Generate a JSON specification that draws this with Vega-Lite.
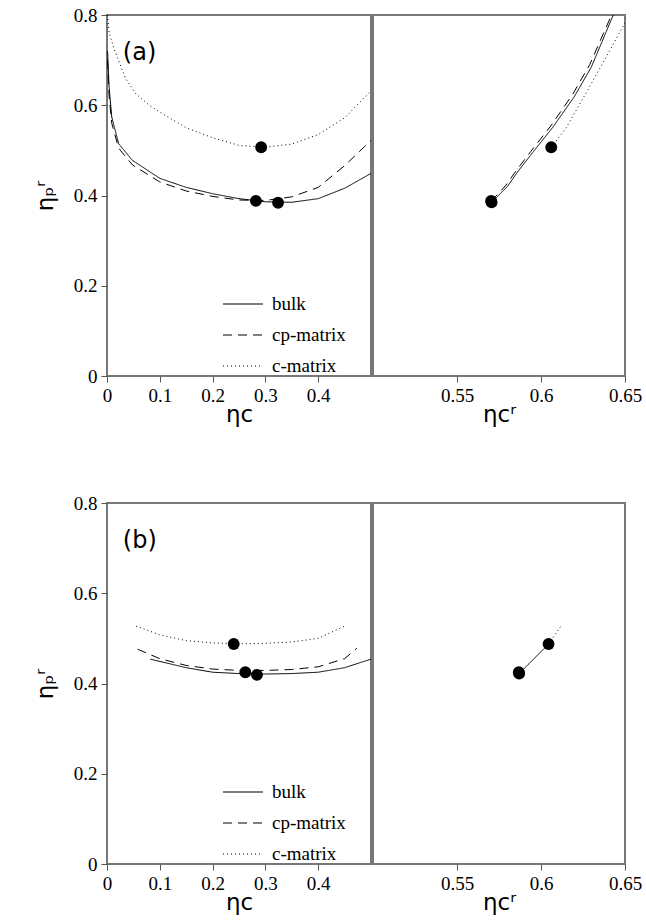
{
  "$schema": "https://vega.github.io/schema/vega-lite/v6.json",
  "background": "white",
  "padding": {"left": 33, "top": 5, "right": 0, "bottom": 0},
  "config": {
    "view": {"stroke": "#777777", "strokeWidth": 2},
    "font": "Times New Roman",
    "axis": {"labelFont": "Times New Roman", "labelFontSize": 19, "labelColor": "black", "titleFont": "DejaVu Sans", "titleFontSize": 23, "titleFontWeight": "normal", "titleColor": "black", "grid": false, "domain": false, "tickColor": "#555", "tickSize": 6, "labelPadding": 4},
    "axisX": {"titlePadding": -2},
    "axisY": {"titlePadding": 16},
    "legend": {"labelFont": "Times New Roman", "labelFontSize": 19, "labelColor": "black", "symbolType": "stroke", "symbolSize": 1600, "symbolStrokeColor": "black", "symbolStrokeWidth": 1.2, "rowPadding": -15, "labelOffset": 8},
    "concat": {"spacing": 0}
  },
  "resolve": {"scale": {"strokeDash": "independent"}, "legend": {"strokeDash": "independent"}},
  "datasets": {
    "curves": [
      {"p": "a", "side": "L", "series": "bulk", "x": 0.001, "y": 0.72},
      {"p": "a", "side": "L", "series": "bulk", "x": 0.004, "y": 0.64},
      {"p": "a", "side": "L", "series": "bulk", "x": 0.009, "y": 0.574},
      {"p": "a", "side": "L", "series": "bulk", "x": 0.022, "y": 0.515},
      {"p": "a", "side": "L", "series": "bulk", "x": 0.048, "y": 0.478},
      {"p": "a", "side": "L", "series": "bulk", "x": 0.1, "y": 0.438},
      {"p": "a", "side": "L", "series": "bulk", "x": 0.15, "y": 0.418},
      {"p": "a", "side": "L", "series": "bulk", "x": 0.2, "y": 0.404},
      {"p": "a", "side": "L", "series": "bulk", "x": 0.25, "y": 0.393},
      {"p": "a", "side": "L", "series": "bulk", "x": 0.3, "y": 0.386},
      {"p": "a", "side": "L", "series": "bulk", "x": 0.35, "y": 0.385},
      {"p": "a", "side": "L", "series": "bulk", "x": 0.4, "y": 0.393},
      {"p": "a", "side": "L", "series": "bulk", "x": 0.45, "y": 0.416},
      {"p": "a", "side": "L", "series": "bulk", "x": 0.5, "y": 0.449},
      {"p": "a", "side": "L", "series": "cp-matrix", "x": 0.001, "y": 0.7},
      {"p": "a", "side": "L", "series": "cp-matrix", "x": 0.004, "y": 0.62},
      {"p": "a", "side": "L", "series": "cp-matrix", "x": 0.009, "y": 0.56},
      {"p": "a", "side": "L", "series": "cp-matrix", "x": 0.022, "y": 0.505},
      {"p": "a", "side": "L", "series": "cp-matrix", "x": 0.048, "y": 0.468},
      {"p": "a", "side": "L", "series": "cp-matrix", "x": 0.1, "y": 0.43},
      {"p": "a", "side": "L", "series": "cp-matrix", "x": 0.15, "y": 0.41},
      {"p": "a", "side": "L", "series": "cp-matrix", "x": 0.2, "y": 0.398},
      {"p": "a", "side": "L", "series": "cp-matrix", "x": 0.25, "y": 0.39},
      {"p": "a", "side": "L", "series": "cp-matrix", "x": 0.3, "y": 0.389},
      {"p": "a", "side": "L", "series": "cp-matrix", "x": 0.35, "y": 0.397},
      {"p": "a", "side": "L", "series": "cp-matrix", "x": 0.4, "y": 0.418},
      {"p": "a", "side": "L", "series": "cp-matrix", "x": 0.45, "y": 0.466},
      {"p": "a", "side": "L", "series": "cp-matrix", "x": 0.5, "y": 0.522},
      {"p": "a", "side": "L", "series": "c-matrix", "x": 0.001, "y": 0.8},
      {"p": "a", "side": "L", "series": "c-matrix", "x": 0.004, "y": 0.76},
      {"p": "a", "side": "L", "series": "c-matrix", "x": 0.015, "y": 0.72},
      {"p": "a", "side": "L", "series": "c-matrix", "x": 0.035, "y": 0.66},
      {"p": "a", "side": "L", "series": "c-matrix", "x": 0.055, "y": 0.625},
      {"p": "a", "side": "L", "series": "c-matrix", "x": 0.082, "y": 0.598},
      {"p": "a", "side": "L", "series": "c-matrix", "x": 0.1, "y": 0.585},
      {"p": "a", "side": "L", "series": "c-matrix", "x": 0.15, "y": 0.55},
      {"p": "a", "side": "L", "series": "c-matrix", "x": 0.2, "y": 0.528},
      {"p": "a", "side": "L", "series": "c-matrix", "x": 0.25, "y": 0.511},
      {"p": "a", "side": "L", "series": "c-matrix", "x": 0.3, "y": 0.507},
      {"p": "a", "side": "L", "series": "c-matrix", "x": 0.35, "y": 0.514},
      {"p": "a", "side": "L", "series": "c-matrix", "x": 0.4, "y": 0.535},
      {"p": "a", "side": "L", "series": "c-matrix", "x": 0.45, "y": 0.572},
      {"p": "a", "side": "L", "series": "c-matrix", "x": 0.5, "y": 0.632},
      {"p": "a", "side": "R", "series": "bulk", "x": 0.5706, "y": 0.385},
      {"p": "a", "side": "R", "series": "bulk", "x": 0.58, "y": 0.42},
      {"p": "a", "side": "R", "series": "bulk", "x": 0.586, "y": 0.452},
      {"p": "a", "side": "R", "series": "bulk", "x": 0.595, "y": 0.495},
      {"p": "a", "side": "R", "series": "bulk", "x": 0.607, "y": 0.551},
      {"p": "a", "side": "R", "series": "bulk", "x": 0.62, "y": 0.62},
      {"p": "a", "side": "R", "series": "bulk", "x": 0.63, "y": 0.685},
      {"p": "a", "side": "R", "series": "bulk", "x": 0.643, "y": 0.8},
      {"p": "a", "side": "R", "series": "cp-matrix", "x": 0.5703, "y": 0.387},
      {"p": "a", "side": "R", "series": "cp-matrix", "x": 0.579, "y": 0.422},
      {"p": "a", "side": "R", "series": "cp-matrix", "x": 0.585, "y": 0.454},
      {"p": "a", "side": "R", "series": "cp-matrix", "x": 0.594, "y": 0.498},
      {"p": "a", "side": "R", "series": "cp-matrix", "x": 0.606, "y": 0.555},
      {"p": "a", "side": "R", "series": "cp-matrix", "x": 0.619, "y": 0.625},
      {"p": "a", "side": "R", "series": "cp-matrix", "x": 0.629, "y": 0.69},
      {"p": "a", "side": "R", "series": "cp-matrix", "x": 0.642, "y": 0.8},
      {"p": "a", "side": "R", "series": "c-matrix", "x": 0.6061, "y": 0.507},
      {"p": "a", "side": "R", "series": "c-matrix", "x": 0.615, "y": 0.55},
      {"p": "a", "side": "R", "series": "c-matrix", "x": 0.628, "y": 0.635},
      {"p": "a", "side": "R", "series": "c-matrix", "x": 0.64, "y": 0.715},
      {"p": "a", "side": "R", "series": "c-matrix", "x": 0.65, "y": 0.783},
      {"p": "b", "side": "L", "series": "bulk", "x": 0.082, "y": 0.454},
      {"p": "b", "side": "L", "series": "bulk", "x": 0.15, "y": 0.435},
      {"p": "b", "side": "L", "series": "bulk", "x": 0.2, "y": 0.425},
      {"p": "b", "side": "L", "series": "bulk", "x": 0.25, "y": 0.422},
      {"p": "b", "side": "L", "series": "bulk", "x": 0.3, "y": 0.421},
      {"p": "b", "side": "L", "series": "bulk", "x": 0.35, "y": 0.422},
      {"p": "b", "side": "L", "series": "bulk", "x": 0.4, "y": 0.425},
      {"p": "b", "side": "L", "series": "bulk", "x": 0.45, "y": 0.435},
      {"p": "b", "side": "L", "series": "bulk", "x": 0.5, "y": 0.454},
      {"p": "b", "side": "L", "series": "cp-matrix", "x": 0.058, "y": 0.476},
      {"p": "b", "side": "L", "series": "cp-matrix", "x": 0.1, "y": 0.455},
      {"p": "b", "side": "L", "series": "cp-matrix", "x": 0.15, "y": 0.44},
      {"p": "b", "side": "L", "series": "cp-matrix", "x": 0.2, "y": 0.432},
      {"p": "b", "side": "L", "series": "cp-matrix", "x": 0.25, "y": 0.429},
      {"p": "b", "side": "L", "series": "cp-matrix", "x": 0.3, "y": 0.429},
      {"p": "b", "side": "L", "series": "cp-matrix", "x": 0.35, "y": 0.431},
      {"p": "b", "side": "L", "series": "cp-matrix", "x": 0.4, "y": 0.437},
      {"p": "b", "side": "L", "series": "cp-matrix", "x": 0.45, "y": 0.455},
      {"p": "b", "side": "L", "series": "cp-matrix", "x": 0.473, "y": 0.478},
      {"p": "b", "side": "L", "series": "c-matrix", "x": 0.055, "y": 0.527},
      {"p": "b", "side": "L", "series": "c-matrix", "x": 0.1, "y": 0.508},
      {"p": "b", "side": "L", "series": "c-matrix", "x": 0.15, "y": 0.495},
      {"p": "b", "side": "L", "series": "c-matrix", "x": 0.2, "y": 0.49},
      {"p": "b", "side": "L", "series": "c-matrix", "x": 0.25, "y": 0.488},
      {"p": "b", "side": "L", "series": "c-matrix", "x": 0.3, "y": 0.489},
      {"p": "b", "side": "L", "series": "c-matrix", "x": 0.35, "y": 0.492},
      {"p": "b", "side": "L", "series": "c-matrix", "x": 0.4, "y": 0.5},
      {"p": "b", "side": "L", "series": "c-matrix", "x": 0.4535, "y": 0.529},
      {"p": "b", "side": "R", "series": "bulk", "x": 0.587, "y": 0.422},
      {"p": "b", "side": "R", "series": "bulk", "x": 0.6045, "y": 0.4875},
      {"p": "b", "side": "R", "series": "c-matrix", "x": 0.6045, "y": 0.4875},
      {"p": "b", "side": "R", "series": "c-matrix", "x": 0.612, "y": 0.528}
    ],
    "dots": [
      {"p": "a", "side": "L", "x": 0.292, "y": 0.507},
      {"p": "a", "side": "L", "x": 0.282, "y": 0.388},
      {"p": "a", "side": "L", "x": 0.324, "y": 0.384},
      {"p": "a", "side": "R", "x": 0.5706, "y": 0.385},
      {"p": "a", "side": "R", "x": 0.5703, "y": 0.388},
      {"p": "a", "side": "R", "x": 0.6061, "y": 0.507},
      {"p": "b", "side": "L", "x": 0.24, "y": 0.4875},
      {"p": "b", "side": "L", "x": 0.262, "y": 0.425},
      {"p": "b", "side": "L", "x": 0.284, "y": 0.419},
      {"p": "b", "side": "R", "x": 0.587, "y": 0.422},
      {"p": "b", "side": "R", "x": 0.5868, "y": 0.425},
      {"p": "b", "side": "R", "x": 0.6045, "y": 0.4875}
    ],
    "labels": [
      {"p": "a", "x": 0.03, "y": 0.715, "label": "(a)"},
      {"p": "b", "x": 0.03, "y": 0.715, "label": "(b)"}
    ]
  },
  "vconcat": [
    {
      "resolve": {"scale": {"strokeDash": "independent"}, "legend": {"strokeDash": "independent"}},
      "hconcat": [
        {
          "width": 264, "height": 361,
          "layer": [
            {
              "data": {"name": "curves"},
              "transform": [{"filter": "datum.p === 'a' && datum.side === 'L'"}],
              "mark": {"type": "line", "color": "black", "strokeWidth": 1, "clip": true},
              "encoding": {
                "x": {"field": "x", "type": "quantitative", "scale": {"domain": [0, 0.5], "nice": false}, "axis": {"values": [0, 0.1, 0.2, 0.3, 0.4], "title": "ηc", "labelFlush": false, "format": "~g"}},
                "y": {"field": "y", "type": "quantitative", "scale": {"domain": [0, 0.8], "nice": false}, "axis": {"values": [0, 0.2, 0.4, 0.6, 0.8], "title": "ηₚʳ", "format": "~g", "labelFlush": false}},
                "detail": {"field": "series"},
                "order": {"field": "x"},
                "strokeDash": {"field": "series", "type": "nominal", "scale": {"domain": ["bulk", "cp-matrix", "c-matrix"], "range": [[1, 0], [9, 6], [1, 3]]}, "legend": {"title": null, "orient": "none", "legendX": 115, "legendY": 268}}
              }
            },
            {
              "data": {"name": "dots"},
              "transform": [{"filter": "datum.p === 'a' && datum.side === 'L'"}],
              "mark": {"type": "circle", "color": "black", "opacity": 1, "size": 140},
              "encoding": {"x": {"field": "x", "type": "quantitative"}, "y": {"field": "y", "type": "quantitative"}}
            },
            {
              "data": {"name": "labels"},
              "transform": [{"filter": "datum.p === 'a'"}],
              "mark": {"type": "text", "font": "DejaVu Sans", "fontSize": 24, "align": "left", "color": "black"},
              "encoding": {"x": {"field": "x", "type": "quantitative"}, "y": {"field": "y", "type": "quantitative"}, "text": {"field": "label"}}
            }
          ]
        },
        {
          "width": 252, "height": 361,
          "layer": [
            {
              "data": {"name": "curves"},
              "transform": [{"filter": "datum.p === 'a' && datum.side === 'R'"}],
              "mark": {"type": "line", "color": "black", "strokeWidth": 1, "clip": true},
              "encoding": {
                "x": {"field": "x", "type": "quantitative", "scale": {"domain": [0.5, 0.65], "nice": false, "zero": false}, "axis": {"values": [0.55, 0.6, 0.65], "title": "ηcʳ", "format": "~g", "labelFlush": false}},
                "y": {"field": "y", "type": "quantitative", "scale": {"domain": [0, 0.8], "nice": false}, "axis": null},
                "detail": {"field": "series"},
                "order": {"field": "x"},
                "strokeDash": {"field": "series", "type": "nominal", "scale": {"domain": ["bulk", "cp-matrix", "c-matrix"], "range": [[1, 0], [9, 6], [1, 3]]}, "legend": null}
              }
            },
            {
              "data": {"name": "dots"},
              "transform": [{"filter": "datum.p === 'a' && datum.side === 'R'"}],
              "mark": {"type": "circle", "color": "black", "opacity": 1, "size": 140},
              "encoding": {"x": {"field": "x", "type": "quantitative"}, "y": {"field": "y", "type": "quantitative"}}
            }
          ]
        }
      ]
    },
    {
      "resolve": {"scale": {"strokeDash": "independent"}, "legend": {"strokeDash": "independent"}},
      "hconcat": [
        {
          "width": 264, "height": 361,
          "layer": [
            {
              "data": {"name": "curves"},
              "transform": [{"filter": "datum.p === 'b' && datum.side === 'L'"}],
              "mark": {"type": "line", "color": "black", "strokeWidth": 1, "clip": true},
              "encoding": {
                "x": {"field": "x", "type": "quantitative", "scale": {"domain": [0, 0.5], "nice": false}, "axis": {"values": [0, 0.1, 0.2, 0.3, 0.4], "title": "ηc", "labelFlush": false, "format": "~g"}},
                "y": {"field": "y", "type": "quantitative", "scale": {"domain": [0, 0.8], "nice": false}, "axis": {"values": [0, 0.2, 0.4, 0.6, 0.8], "title": "ηₚʳ", "format": "~g", "labelFlush": false}},
                "detail": {"field": "series"},
                "order": {"field": "x"},
                "strokeDash": {"field": "series", "type": "nominal", "scale": {"domain": ["bulk", "cp-matrix", "c-matrix"], "range": [[1, 0], [9, 6], [1, 3]]}, "legend": {"title": null, "orient": "none", "legendX": 115, "legendY": 268}}
              }
            },
            {
              "data": {"name": "dots"},
              "transform": [{"filter": "datum.p === 'b' && datum.side === 'L'"}],
              "mark": {"type": "circle", "color": "black", "opacity": 1, "size": 140},
              "encoding": {"x": {"field": "x", "type": "quantitative"}, "y": {"field": "y", "type": "quantitative"}}
            },
            {
              "data": {"name": "labels"},
              "transform": [{"filter": "datum.p === 'b'"}],
              "mark": {"type": "text", "font": "DejaVu Sans", "fontSize": 24, "align": "left", "color": "black"},
              "encoding": {"x": {"field": "x", "type": "quantitative"}, "y": {"field": "y", "type": "quantitative"}, "text": {"field": "label"}}
            }
          ]
        },
        {
          "width": 252, "height": 361,
          "layer": [
            {
              "data": {"name": "curves"},
              "transform": [{"filter": "datum.p === 'b' && datum.side === 'R'"}],
              "mark": {"type": "line", "color": "black", "strokeWidth": 1, "clip": true},
              "encoding": {
                "x": {"field": "x", "type": "quantitative", "scale": {"domain": [0.5, 0.65], "nice": false, "zero": false}, "axis": {"values": [0.55, 0.6, 0.65], "title": "ηcʳ", "format": "~g", "labelFlush": false}},
                "y": {"field": "y", "type": "quantitative", "scale": {"domain": [0, 0.8], "nice": false}, "axis": null},
                "detail": {"field": "series"},
                "order": {"field": "x"},
                "strokeDash": {"field": "series", "type": "nominal", "scale": {"domain": ["bulk", "cp-matrix", "c-matrix"], "range": [[1, 0], [9, 6], [1, 3]]}, "legend": null}
              }
            },
            {
              "data": {"name": "dots"},
              "transform": [{"filter": "datum.p === 'b' && datum.side === 'R'"}],
              "mark": {"type": "circle", "color": "black", "opacity": 1, "size": 140},
              "encoding": {"x": {"field": "x", "type": "quantitative"}, "y": {"field": "y", "type": "quantitative"}}
            }
          ]
        }
      ]
    }
  ],
  "spacing": 66
}
